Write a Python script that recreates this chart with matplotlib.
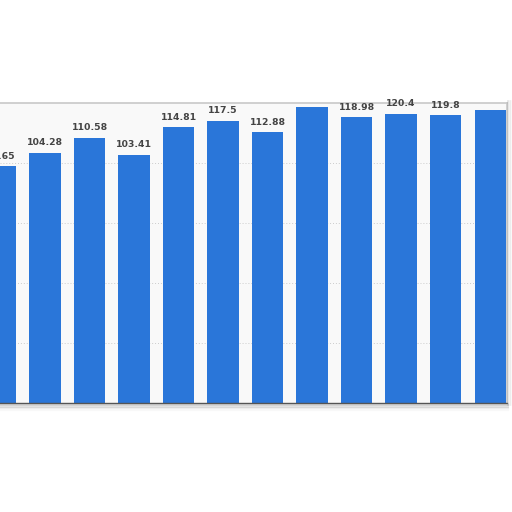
import numpy as np
from matplotlib import pyplot as plt

# valores (o primeiro e os sem rótulo são estimados)
valores = [98.65, 104.28, 110.58, 103.41, 114.81, 117.5, 112.88,
           123.3, 118.98, 120.4, 119.8, 122.1]
rotulos = ["98.65", "104.28", "110.58", "103.41", "114.81", "117.5", "112.88",
           "", "118.98", "120.4", "119.8", ""]
grade_y = [25, 50, 75, 100]

azul = "#2a76d9"

fig = plt.figure(figsize=(5.12, 5.12), dpi=100)
fig.patch.set_facecolor("white")

# área do gráfico em pixels: x 0..507, y 103..403
ax = fig.add_axes([0, (512 - 403) / 512, 507 / 512, 300 / 512])
ax.set_facecolor("#f9f9f9")

x = np.arange(len(valores))
ax.bar(x, valores, width=0.70, color=azul, zorder=3)

for xi, v, r in zip(x, valores, rotulos):
    if r:
        ax.annotate(r, (xi, v), xytext=(0, 4), textcoords="offset points",
                    ha="center", va="bottom", fontsize=6.7,
                    fontweight="bold", color="#444444", annotation_clip=False)

for g in grade_y:
    ax.axhline(g, color="#cccccc", lw=0.7, ls=(0, (1, 2)), zorder=1)

ax.set_xlim(-0.011, 11.38)
ax.set_ylim(0, 125)
ax.set_xticks([])
ax.set_yticks([])

ax.spines["left"].set_visible(False)
for lado in ["top", "right"]:
    ax.spines[lado].set_color("#c8c8c8")
    ax.spines[lado].set_linewidth(1.2)
ax.spines["bottom"].set_color("#555555")
ax.spines["bottom"].set_linewidth(1.0)
ax.spines["bottom"].set_zorder(4)

# sombra suave do quadro
for i, a in enumerate([0.35, 0.22, 0.12, 0.06]):
    y = (512 - 405 - i * 1.5) / 512
    fig.add_artist(plt.Line2D([0, 508 / 512], [y, y], color="#888888",
                              lw=1.5, alpha=a))
for i, a in enumerate([0.25, 0.12, 0.05]):
    xs = (508 + i * 1.5) / 512
    fig.add_artist(plt.Line2D([xs, xs], [(512 - 405) / 512, (512 - 101) / 512],
                              color="#888888", lw=1.2, alpha=a))

plt.savefig("out.png", dpi=100)
